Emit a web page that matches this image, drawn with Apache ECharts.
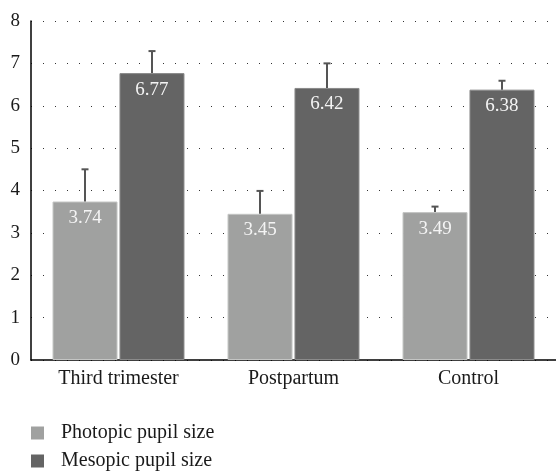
<!DOCTYPE html>
<html><head><meta charset="utf-8">
<script src="https://cdn.jsdelivr.net/npm/echarts@6/dist/echarts.min.js"></script>
<style>html,body{margin:0;padding:0;background:#fff}#c{width:556px;height:471px}</style>
</head><body><div id="c"></div>
<script>
var categories = ['Third trimester', 'Postpartum', 'Control'];
var photopic = [3.74, 3.45, 3.49];
var mesopic = [6.77, 6.42, 6.38];
var photopicErrTop = [4.50, 3.99, 3.62];
var mesopicErrTop = [7.29, 7.00, 6.59];
var yTicks = [0, 1, 2, 3, 4, 5, 6, 7, 8];

var FONT = '"Liberation Serif", "DejaVu Serif", serif';
var BAR_W = 65, BAR_GAP_PX = 2;

function errSeries(name, base, top, sign, color) {
  var data = categories.map(function (c, i) { return [i, base[i], top[i]]; });
  return {
    type: 'custom', name: name + ' err', silent: true, z: 5,
    data: data,
    renderItem: function (params, api) {
      var i = api.value(0);
      var p0 = api.coord([i, api.value(1)]);
      var p1 = api.coord([i, api.value(2)]);
      var x = p0[0] + sign * (BAR_W + BAR_GAP_PX) / 2;
      var cap = 3.5;
      return {
        type: 'group',
        children: [
          {type: 'line', shape: {x1: x, y1: p0[1], x2: x, y2: p1[1]}, style: {stroke: color, lineWidth: 2}},
          {type: 'line', shape: {x1: x - cap, y1: p1[1], x2: x + cap, y2: p1[1]}, style: {stroke: color, lineWidth: 2}}
        ]
      };
    }
  };
}

var chart = echarts.init(document.getElementById('c'), null, {renderer: 'canvas'});
chart.setOption({
  animation: false,
  textStyle: {fontFamily: FONT},
  grid: {left: 31, right: -4, top: 21, bottom: 111, containLabel: false},
  legend: {
    orient: 'vertical', left: 31, top: 423, padding: 0, itemWidth: 13, itemHeight: 13, itemGap: 8,
    icon: 'rect', height: 60,
    itemStyle: {borderWidth: 0},
    data: ['Photopic pupil size', 'Mesopic pupil size'],
    textStyle: {fontFamily: FONT, fontSize: 20, color: '#1a1a1a', padding: [0, 0, 0, 12]}
  },
  xAxis: {
    type: 'category', data: categories,
    axisLine: {lineStyle: {color: '#000', width: 1.5}},
    axisTick: {show: false},
    axisLabel: {fontFamily: FONT, fontSize: 20, color: '#1a1a1a', margin: 9}
  },
  yAxis: {
    type: 'value', min: yTicks[0], max: yTicks[yTicks.length - 1], interval: 1,
    axisLine: {show: true, lineStyle: {color: '#000', width: 1.5}},
    axisTick: {show: false},
    axisLabel: {fontFamily: FONT, fontSize: 19, color: '#1a1a1a', margin: 11},
    splitLine: {show: true, lineStyle: {color: '#333', width: 1, type: [1, 11]}}
  },
  series: [
    {
      name: 'Photopic pupil size', type: 'bar', data: photopic, barWidth: BAR_W, barGap: '3%',
      itemStyle: {color: '#a0a1a0', borderColor: '#c4c5c4', borderWidth: 1},
      label: {show: true, position: 'insideTop', distance: 7, color: '#f4f4f4', fontFamily: FONT, fontSize: 19,
        formatter: function (p) { return p.value.toFixed(2); }}
    },
    {
      name: 'Mesopic pupil size', type: 'bar', data: mesopic, barWidth: BAR_W,
      itemStyle: {color: '#646464', borderColor: '#8a8a8a', borderWidth: 1},
      label: {show: true, position: 'insideTop', distance: 7, color: '#f4f4f4', fontFamily: FONT, fontSize: 19,
        formatter: function (p) { return p.value.toFixed(2); }}
    },
    errSeries('Photopic pupil size', photopic, photopicErrTop, -1, '#555'),
    errSeries('Mesopic pupil size', mesopic, mesopicErrTop, 1, '#555')
  ]
});
</script></body></html>
